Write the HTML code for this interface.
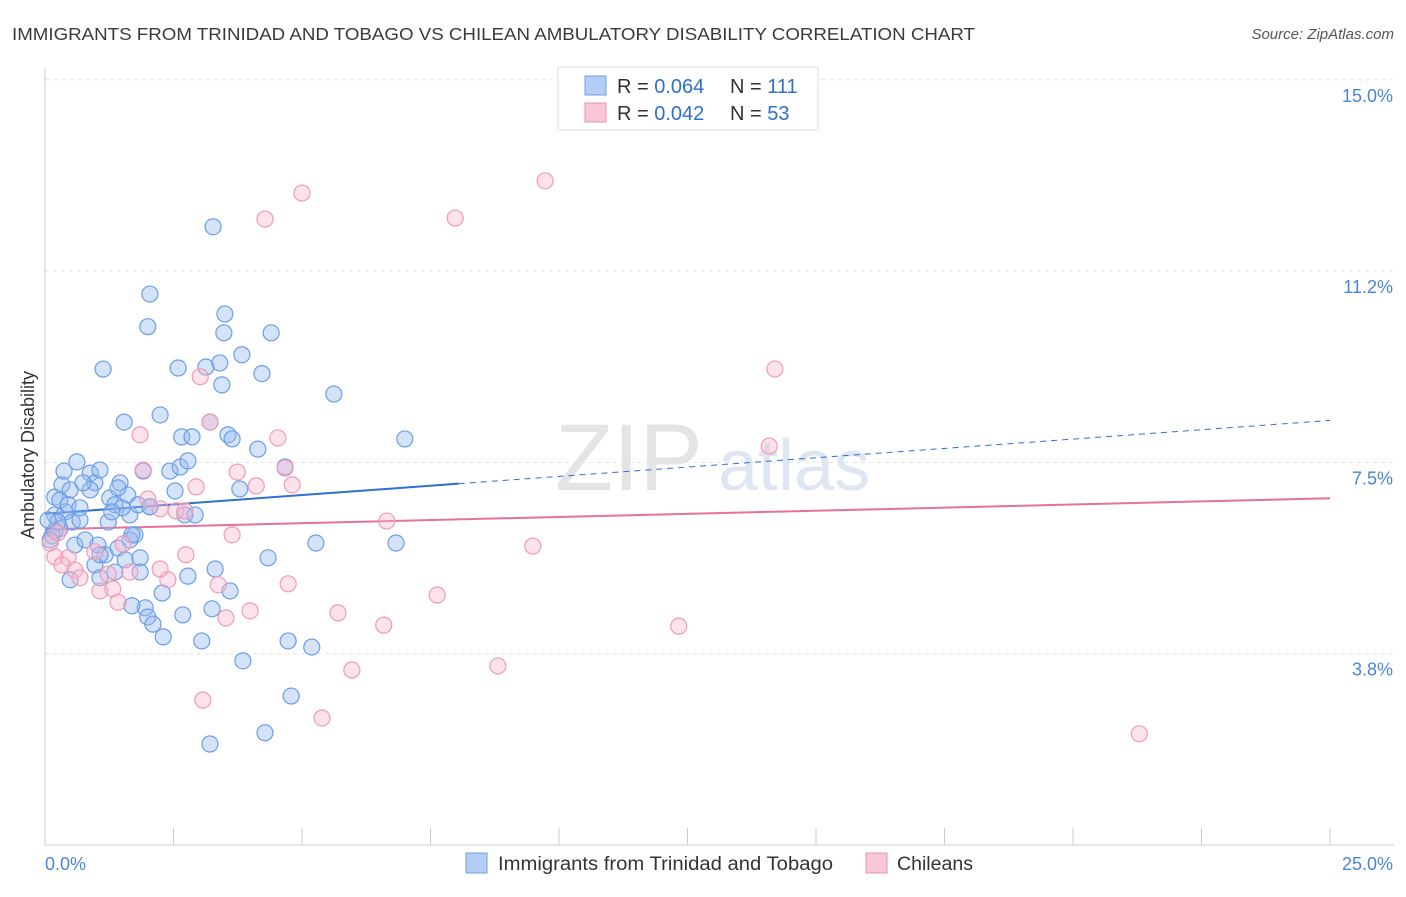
<!DOCTYPE html>
<html><head><meta charset="utf-8"><style>
body{margin:0;background:#fff;font-family:"Liberation Sans",sans-serif;}
svg text{font-family:"Liberation Sans",sans-serif;}
</style></head><body>
<svg id="chart" width="1406" height="892">
<text x="12" y="40" font-size="17.5" fill="#3a3a3a" textLength="963" lengthAdjust="spacingAndGlyphs">IMMIGRANTS FROM TRINIDAD AND TOBAGO VS CHILEAN AMBULATORY DISABILITY CORRELATION CHART</text>
<text x="1394" y="39" font-size="15" fill="#555" text-anchor="end" font-style="italic">Source: ZipAtlas.com</text>
<text x="34" y="455" font-size="18" fill="#333" text-anchor="middle" transform="rotate(-90 34 455)">Ambulatory Disability</text>
<text x="555" y="490" font-size="95" fill="#e4e4e4" font-family="Liberation Serif">ZIP</text>
<text x="718" y="490" font-size="72" fill="#dde6f2">atlas</text>
<g id="grid"></g><g id="axes"></g><g id="trend"></g><g id="pts"></g>
<g>
<rect x="558" y="67" width="260" height="63" fill="#fff" stroke="#ddd"/>
<rect x="585" y="76" width="21" height="19" fill="#b3cdf5" stroke="#6f9fe0"/>
<rect x="585" y="103" width="21" height="19" fill="#f9c6d6" stroke="#ee93b1"/>
<text x="617" y="93" font-size="20" fill="#333">R = <tspan fill="#2f6fd0">0.064</tspan></text>
<text x="730" y="93" font-size="20" fill="#333">N = <tspan fill="#2f6fd0">111</tspan></text>
<text x="617" y="120" font-size="20" fill="#333">R = <tspan fill="#2f6fd0">0.042</tspan></text>
<text x="730" y="120" font-size="20" fill="#333">N = <tspan fill="#2f6fd0">53</tspan></text>
</g>
<g>
<rect x="466" y="853" width="21" height="20" fill="#b3cdf5" stroke="#6f9fe0"/>
<text x="498" y="870" font-size="19" fill="#333" textLength="335" lengthAdjust="spacingAndGlyphs">Immigrants from Trinidad and Tobago</text>
<rect x="866" y="853" width="21" height="20" fill="#f9c6d6" stroke="#ee93b1"/>
<text x="897" y="870" font-size="19" fill="#333" textLength="76" lengthAdjust="spacingAndGlyphs">Chileans</text>
</g>
</svg>
<script>
const xTicks=[0,2.5,5,7.5,10,12.5,15,17.5,20,22.5,25];
const yTicks=[3.75,7.5,11.25,15];
const yTickLabels=["3.8%","7.5%","11.2%","15.0%"];
const xTickLabels=["0.0%","25.0%"];
const blueX=[0.19,0.33,0.49,0.62,0.19,0.39,0.53,0.68,0.88,0.97,1.07,1.26,1.46,1.61,1.36,1.65,1.81,2.04,0.29,0.19,0.14,0.58,0.78,1.03,1.17,1.42,1.56,1.85,1.65,1.75,0.97,1.07,1.36,1.85,2.04,2.24,2.00,2.04,1.13,1.54,1.91,2.43,2.53,2.66,2.63,2.78,2.86,2.72,2.92,2.59,3.13,3.27,3.21,3.40,3.50,3.48,3.44,3.56,3.64,3.83,4.22,4.40,4.14,3.79,4.34,3.31,3.60,2.78,2.28,1.95,1.69,2.00,2.10,2.30,2.68,3.25,3.05,3.85,4.73,5.19,4.79,3.21,4.28,5.27,5.62,6.83,7.00,4.67,0.29,0.45,0.68,0.25,0.06,0.10,0.88,1.23,1.42,1.50,1.69,1.30,0.37,0.74,1.07,0.49];
const blueY=[6.82,7.06,6.96,7.51,6.47,6.53,6.33,6.37,7.29,7.10,7.35,6.80,7.10,6.86,6.67,6.47,6.67,6.63,6.20,6.16,6.06,5.88,5.98,5.88,5.69,5.82,5.59,5.63,5.98,6.08,5.49,5.24,5.35,5.35,6.63,8.43,10.16,10.80,9.33,8.29,7.33,7.33,6.94,8.00,7.41,7.53,8.00,6.47,6.47,9.35,9.37,12.12,8.29,9.45,10.41,10.04,9.02,8.04,7.96,9.61,9.24,10.04,7.76,6.98,5.63,5.41,4.98,5.27,4.94,4.65,4.69,4.47,4.33,4.08,4.51,4.63,4.00,3.61,4.00,3.88,2.92,1.98,2.20,5.92,8.84,5.92,7.96,7.41,6.76,6.67,6.61,6.33,6.37,5.98,6.96,6.33,7.00,6.61,6.08,6.53,7.33,7.10,5.69,5.20];
const pinkX=[9.73,7.98,5.00,4.28,14.20,14.09,3.02,3.21,4.53,1.85,1.91,3.74,4.67,4.81,4.11,2.94,2.00,2.24,2.55,2.72,3.64,2.74,6.65,9.49,0.97,0.45,0.19,0.33,0.58,0.68,1.07,1.32,1.23,1.42,1.65,2.39,3.37,4.73,3.99,3.52,5.70,6.59,7.63,12.33,8.81,5.97,3.07,5.39,21.29,0.10,0.25,1.52,2.24];
const pinkY=[13.02,12.29,12.78,12.27,9.33,7.82,9.18,8.29,7.98,8.04,7.35,7.31,7.39,7.06,7.04,7.02,6.78,6.59,6.55,6.55,6.08,5.69,6.35,5.86,5.75,5.63,5.65,5.49,5.39,5.24,4.98,5.02,5.31,4.76,5.35,5.20,5.10,5.12,4.59,4.45,4.55,4.31,4.90,4.29,3.51,3.43,2.84,2.49,2.18,5.92,6.12,5.90,5.41];
const X=v=>45+v*(1285/25), Y=v=>845-v*(191.3/3.75);
const NS="http://www.w3.org/2000/svg";
function mk(parent,tag,attrs){const e=document.createElementNS(NS,tag);for(const k in attrs)e.setAttribute(k,attrs[k]);document.getElementById(parent).appendChild(e);return e;}
yTicks.forEach((t,i)=>{
 const g=mk('grid','line',{x1:45,x2:1394,y1:Y(t),y2:Y(t),stroke:'#e4e4e4','stroke-dasharray':'4 4'});
 
 
 const tx=mk('grid','text',{x:1393,y:Y(t)+22,'text-anchor':'end','font-size':18,fill:'#4a86d8'});
 tx.textContent=yTickLabels[i];
 
 
});
const xa=mk('axes','line',{x1:45,x2:1394,y1:845,y2:845,stroke:'#ccc'});


const ya=mk('axes','line',{x1:45,x2:45,y1:68,y2:845,stroke:'#ccc'});


xTicks.forEach(t=>{
 const l=mk('axes','line',{x1:X(t),x2:X(t),y1:828,y2:845,stroke:'#ccc'});
 
 
});
const xl0=mk('axes','text',{x:45,y:870,'font-size':18,fill:'#4a86d8'});
xl0.textContent=xTickLabels[0];


const xl1=mk('axes','text',{x:1393,y:870,'font-size':18,fill:'#4a86d8','text-anchor':'end'});
xl1.textContent=xTickLabels[1];


function fit(xs,ys){const n=xs.length;let mx=0,my=0;xs.forEach((v,i)=>{mx+=v;my+=ys[i];});mx/=n;my/=n;let a=0,b=0;xs.forEach((v,i)=>{a+=(v-mx)*(ys[i]-my);b+=(v-mx)*(v-mx);});const s=a/b;return x=>my+s*(x-mx);}
const fb=fit(blueX,blueY), fp=fit(pinkX,pinkY);
const solidEnd=Math.max(...blueX)*1.15;
const t1=mk('trend','line',{x1:X(0),y1:Y(fb(0)),x2:X(solidEnd),y2:Y(fb(solidEnd)),stroke:'#2f6fd0','stroke-width':2});


const t2=mk('trend','line',{x1:X(solidEnd),y1:Y(fb(solidEnd)),x2:X(25),y2:Y(fb(25)),stroke:'#2f6fd0','stroke-width':1,'stroke-dasharray':'6 5'});


const t3=mk('trend','line',{x1:X(0),y1:Y(fp(0)),x2:X(25),y2:Y(fp(25)),stroke:'#e8709a','stroke-width':2});


blueX.forEach((v,i)=>{
 const c=mk('pts','circle',{cx:X(v),cy:Y(blueY[i]),r:8,fill:'rgba(150,185,240,0.4)',stroke:'#6a9ee6','stroke-width':1.2});
 
 
});
pinkX.forEach((v,i)=>{
 const c=mk('pts','circle',{cx:X(v),cy:Y(pinkY[i]),r:8,fill:'rgba(248,185,205,0.4)',stroke:'#ef9ab8','stroke-width':1.2});
 
 
});
</script>
</body></html>
